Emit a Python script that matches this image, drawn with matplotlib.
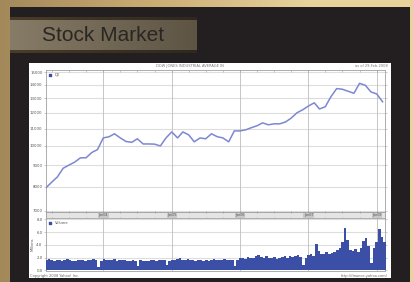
import numpy as np
import pandas as pd
import matplotlib
matplotlib.use("Agg")
import matplotlib.pyplot as plt
import matplotlib.dates as mdates
from matplotlib.colors import to_rgb
from matplotlib.patches import Rectangle

# ---------------- data ----------------
slide_title = "Stock Market"
chart_title = "DOW JONES INDUSTRIAL AVERAGE IN"
as_of = "as of 29-Feb-2008"
copyright_txt = "Copyright 2008 Yahoo! Inc."
url_txt = "http://finance.yahoo.com/"
price_legend = "DJI"
volume_legend = "Volume"
volume_unit = "Millions"

price_start = "2003-03-01"
price_values = [7950, 8200, 8440, 8850, 9000, 9150, 9370, 9370, 9650, 9800,
                10450, 10520, 10690, 10450, 10250, 10200, 10400, 10110, 10110, 10100, 10000, 10450,
                10800, 10450, 10800, 10630, 10230, 10450, 10400, 10690, 10520, 10450, 10230, 10860,
                10860, 10930, 11050, 11170, 11350, 11230, 11290, 11290, 11410, 11650, 12000, 12190,
                12450, 12670, 12250, 12400, 13100, 13700, 13650, 13500, 13350, 14100, 13950, 13450,
                13300, 12740]

volume_start = "2003-03-03"
volume_values = [1.7, 1.8, 1.6, 1.5, 1.6, 1.7, 1.5, 1.6, 1.8, 1.7, 1.5, 1.4, 1.6, 1.7, 1.6, 1.5, 1.7, 1.6, 1.8, 1.6, 0.6, 1.5,
                 1.8, 1.7, 1.6, 1.7, 1.8, 1.5, 1.6, 1.7, 1.6, 1.5, 1.4, 1.6, 1.5, 0.7, 1.6, 1.5, 1.4, 1.5, 1.6, 1.7, 1.5, 1.6, 1.7, 1.6, 0.8, 1.5,
                 1.7, 1.6, 1.8, 1.9, 1.7, 1.6, 1.8, 1.7, 1.6, 1.5, 1.7, 1.6, 1.5, 1.6, 1.5, 1.7, 1.8, 1.6, 1.7, 1.6, 1.8, 1.7, 1.6, 1.7, 0.7, 1.6,
                 1.9, 2.0, 1.8, 2.1, 1.9, 2.0, 2.2, 2.4, 2.1, 2.0, 2.2, 1.9, 2.0, 2.1, 1.8, 2.0, 2.1, 2.2, 2.0, 2.3, 2.1, 2.2, 2.4, 2.1, 0.9, 2.0,
                 2.4, 2.5, 2.3, 4.2, 3.0, 2.6, 2.5, 2.8, 2.6, 2.7, 2.9, 3.2, 3.5, 4.5, 6.6, 4.8, 3.2, 3.0, 3.4, 2.9, 3.5, 4.6, 5.1, 3.8, 1.2, 3.5,
                 4.5, 6.5, 5.2, 4.4, 4.8]

price_ticks = [7000, 8000, 9000, 10000, 11000, 12000, 13000, 14000, 15000]
volume_ticks = [0, 2, 4, 6, 8]
year_labels = ["Jan04", "Jan05", "Jan06", "Jan07", "Jan08"]
year_dates = ["2004-01-01", "2005-01-01", "2006-01-01", "2007-01-01", "2008-01-01"]
x_range = ["2003-03-01", "2008-02-14"]

price_dates = pd.date_range(price_start, periods=len(price_values), freq="MS")
volume_dates = pd.date_range(volume_start, periods=len(volume_values), freq="14D")

# ---------------- figure ----------------
W, H = 413, 282
fig = plt.figure(figsize=(W / 100, H / 100), dpi=100)
bg = fig.add_axes([0, 0, 1, 1])
bg.set_xlim(0, W)
bg.set_ylim(H, 0)
bg.axis("off")

# gold gradient background
c1 = np.array(to_rgb("#a3885a"))
c2 = np.array(to_rgb("#c9ab72"))
c3 = np.array(to_rgb("#e8d39c"))
t = np.linspace(0, 1, 200)
grad = np.where(t[:, None] < 0.35,
                c1 + (c2 - c1) * (t[:, None] / 0.35),
                c2 + (c3 - c2) * np.clip((t[:, None] - 0.35) / 0.4, 0, 1))
bg.imshow(grad[None, :, :], extent=(0, W, H, 0), aspect="auto", zorder=0)

# dark slide panel
bg.add_patch(Rectangle((10, 7), 400, 280, facecolor="#231f20", edgecolor="none", zorder=1))

# title box with gradient
tb = np.zeros((36, 200, 3))
l = np.array(to_rgb("#877c67"))
r = np.array(to_rgb("#5d5444"))
tt = np.linspace(0, 1, 200)[:, None]
body = l + (r - l) * tt
edge_l = np.array(to_rgb("#4a3c28"))
edge_r = np.array(to_rgb("#2e2820"))
edge = edge_l + (edge_r - edge_l) * tt
for i in range(36):
    if i < 3 or i > 32:
        tb[i] = edge
    else:
        tb[i] = body
bg.imshow(tb, extent=(10, 197, 53, 17), aspect="auto", zorder=2)
bg.text(41.5, 35.5, slide_title, fontsize=15, family="Liberation Sans",
        color="#2a2622", va="center", ha="left", zorder=3)

# white chart panel
bg.add_patch(Rectangle((29, 63), 362, 215, facecolor="white", edgecolor="none", zorder=2))
bg.text(190, 66, chart_title, fontsize=2.6, color="#777777", ha="center", va="center", zorder=3)
bg.text(388, 66, as_of, fontsize=2.6, color="#777777", ha="right", va="center", zorder=3)
bg.text(30, 275.5, copyright_txt, fontsize=2.6, color="#666666", ha="left", va="center", zorder=3)
bg.text(388, 275.5, url_txt, fontsize=2.6, color="#666666", ha="right", va="center", zorder=3)


def fx(px):
    return px / W


def fy(top, bottom):
    return 1 - bottom / H, (bottom - top) / H


grid_h = "#dddddd"
grid_v = "#bdbdbd"
spine_c = "#a0a0a0"
label_c = "#555555"
line_c = "#7d87d2"
vol_c = "#3b4fa6"

xl = pd.to_datetime(x_range)
years = pd.to_datetime(year_dates)
quarters = pd.date_range("2003-04-01", "2008-01-01", freq="QS")

# ---- price axes ----
b, h = fy(70, 212)
ax = fig.add_axes([fx(46), b, fx(385) - fx(46), h])
ax.set_yscale("log")
ax.set_ylim(6960, 15170)
ax.set_xlim(xl[0], xl[1])
ax.plot(price_dates, price_values, color=line_c, lw=1.1, solid_joinstyle="round", zorder=3)
ax.set_yticks(price_ticks)
ax.set_yticks([], minor=True)
ax.set_yticklabels([str(v) for v in price_ticks])
ax.set_xticks(years)
ax.set_xticks(quarters, minor=True)
ax.set_xticklabels([])
for v in price_ticks:
    ax.axhline(v, color=grid_h, lw=0.8, zorder=1)
for d in years:
    ax.axvline(d, color=grid_v, lw=0.6, zorder=1)
ax.tick_params(axis="y", which="major", labelsize=2.8, labelcolor=label_c, length=1.5,
               width=0.4, color=spine_c, pad=1, right=True)
ax.tick_params(axis="x", which="both", length=1.5, width=0.4, color=spine_c, top=True, bottom=False,
               direction="in")
for s in ax.spines.values():
    s.set_color(spine_c)
    s.set_linewidth(0.6)
ax.scatter([0.012], [0.965], s=1.5, marker="s", color=vol_c, transform=ax.transAxes, zorder=4)
ax.text(0.026, 0.965, price_legend, fontsize=2.6, color="#555555", transform=ax.transAxes,
        va="center", ha="left")

# ---- date band ----
b, h = fy(212, 218)
axd = fig.add_axes([fx(46), b, fx(385) - fx(46), h])
axd.set_xlim(xl[0], xl[1])
axd.set_ylim(0, 1)
axd.set_facecolor("#e4e4e4")
axd.set_yticks([])
axd.set_xticks(quarters, minor=True)
axd.set_xticks([])
axd.tick_params(axis="x", which="both", length=1, width=0.4, color="#888888", top=True,
                bottom=True, direction="inout", labelbottom=False)
for s in axd.spines.values():
    s.set_color("#9a9a9a")
    s.set_linewidth(0.6)
for d, lab in zip(years, year_labels):
    axd.text(d, 0.5, lab, fontsize=2.4, color="#555555", ha="center", va="center",
             bbox=dict(boxstyle="square,pad=0.15", facecolor="#c8c8c8", edgecolor="none"))

# ---- volume axes ----
b, h = fy(218, 271)
axv = fig.add_axes([fx(46), b, fx(385) - fx(46), h])
axv.set_xlim(xl[0], xl[1])
axv.set_ylim(-0.1, 8.2)
axv.fill_between(volume_dates, 0, volume_values, step="mid", color=vol_c, lw=0, zorder=3)
axv.set_yticks(volume_ticks)
axv.set_yticklabels([f"{v:.1f}" for v in volume_ticks])
axv.set_xticks(years)
axv.set_xticklabels([])
for v in volume_ticks[1:]:
    axv.axhline(v, color=grid_h, lw=0.8, zorder=1)
for d in years:
    axv.axvline(d, color=grid_v, lw=0.6, zorder=1)
axv.tick_params(axis="y", labelsize=2.8, labelcolor=label_c, length=1.5, width=0.4,
                color=spine_c, pad=1, right=True)
axv.tick_params(axis="x", length=0)
axv.set_ylabel(volume_unit, fontsize=2.6, color=label_c, labelpad=1)
for s in axv.spines.values():
    s.set_color(spine_c)
    s.set_linewidth(0.6)
axv.scatter([0.012], [0.9], s=1.5, marker="s", color=vol_c, transform=axv.transAxes, zorder=4)
axv.text(0.026, 0.9, volume_legend, fontsize=2.6, color="#555555", transform=axv.transAxes,
         va="center", ha="left", zorder=4)

fig.savefig("out.png", dpi=100)
